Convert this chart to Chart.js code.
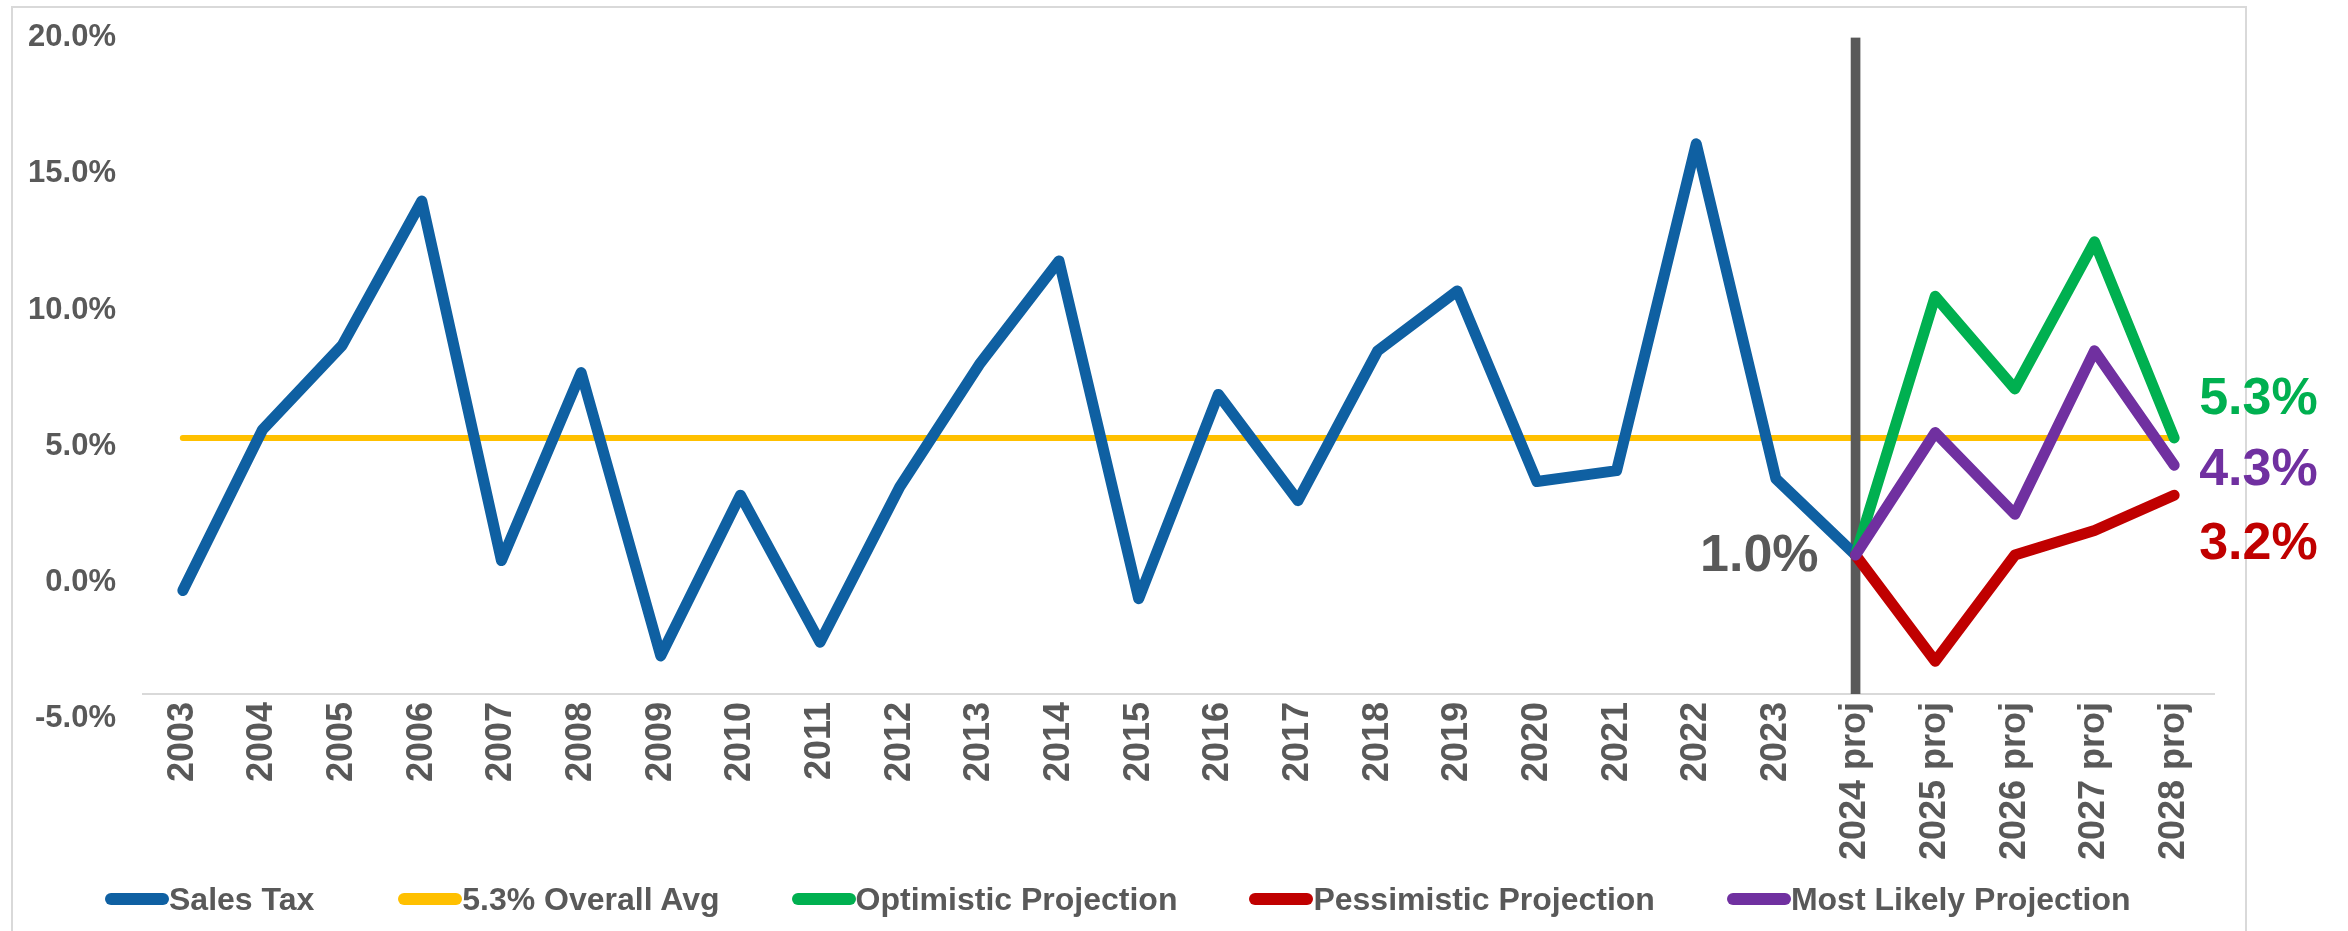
<!DOCTYPE html>
<html>
<head>
<meta charset="utf-8">
<title>Sales Tax Growth</title>
<script src="https://cdn.jsdelivr.net/npm/chart.js@4.4.1/dist/chart.umd.min.js"></script>
<style>
    html, body { margin: 0; padding: 0; background: #ffffff; overflow: hidden; }
    #frame { position: absolute; left: 11px; top: 6px; width: 2232px; height: 1000px; border: 2px solid #d9d9d9; }
    #salesChart { position: absolute; left: 0; top: 0; }
    #legend { position: absolute; left: 105px; top: 880px; height: 38px; display: flex; align-items: center; gap: 72px;
        font: bold 32px 'Liberation Sans', Arial, sans-serif; color: #595959; white-space: nowrap; }
    #legend .item { display: flex; align-items: center; }
    #legend .item:first-child { margin-right: 12px; }
    #legend .mark { display: inline-block; width: 64px; height: 12px; border-radius: 6px; }
</style>
</head>
<body>
<div id="frame"></div>
<canvas id="salesChart" width="2348" height="931"></canvas>
<div id="legend"></div>
<script>
// Chart data
// ------------------------------
var years = ['2003', '2004', '2005', '2006', '2007', '2008', '2009', '2010', '2011', '2012', '2013',
    '2014', '2015', '2016', '2017', '2018', '2019', '2020', '2021', '2022', '2023',
    '2024 proj', '2025 proj', '2026 proj', '2027 proj', '2028 proj'];

var salesTax = [-0.3, 5.6, 8.7, 14.0, 0.8, 7.7, -2.7, 3.2, -2.2, 3.5, 8.0,
    11.8, -0.6, 6.9, 3.0, 8.5, 10.7, 3.7, 4.1, 16.1, 3.8,
    1.0, null, null, null, null];

var overallAvg = [5.3, 5.3, 5.3, 5.3, 5.3, 5.3, 5.3, 5.3, 5.3, 5.3, 5.3,
    5.3, 5.3, 5.3, 5.3, 5.3, 5.3, 5.3, 5.3, 5.3, 5.3,
    5.3, 5.3, 5.3, 5.3, 5.3];

var optimistic = [null, null, null, null, null, null, null, null, null, null, null,
    null, null, null, null, null, null, null, null, null, null,
    1.0, 10.5, 7.1, 12.5, 5.3];

var pessimistic = [null, null, null, null, null, null, null, null, null, null, null,
    null, null, null, null, null, null, null, null, null, null,
    1.0, -2.9, 1.0, 1.9, 3.2];

var mostLikely = [null, null, null, null, null, null, null, null, null, null, null,
    null, null, null, null, null, null, null, null, null, null,
    1.0, 5.5, 2.5, 8.5, 4.3];

// divider between actuals and projections
var divider = [null, null, null, null, null, null, null, null, null, null, null,
    null, null, null, null, null, null, null, null, null, null,
    [-4.1, 20], null, null, null, null];

var yTickValues = [-5, 0, 5, 10, 15, 20];
var axisCrossAt = -4.1;   // category axis crosses a bit above the -5% label
var yMax = 20;

var fontFamily = "'Liberation Sans', Arial, sans-serif";
var textGray = '#595959';

// labels at the ends of the lines: dataset, point, and offset in px
var endLabels = [
    { dataset: 0, index: 21, color: textGray, align: 'right', dx: -37, dy: 2 },
    { dataset: 2, index: 25, color: '#00B050', align: 'left', dx: 25, dy: -38 },
    { dataset: 4, index: 25, color: '#7030A0', align: 'left', dx: 25, dy: 5 },
    { dataset: 3, index: 25, color: '#C00000', align: 'left', dx: 25, dy: 49 }
];

function lineSet(label, data, color, width, order) {
    return {
        type: 'line',
        label: label,
        data: data,
        borderColor: color,
        backgroundColor: color,
        borderWidth: width,
        borderCapStyle: 'round',
        borderJoinStyle: 'round',
        pointRadius: 0,
        pointHoverRadius: 0,
        tension: 0,
        order: order
    };
}

var endLabelPlugin = {
    id: 'endLabels',
    afterDatasetsDraw: function (chart) {
        var ctx = chart.ctx;
        ctx.save();
        ctx.font = 'bold 52px ' + fontFamily;
        ctx.textBaseline = 'middle';
        endLabels.forEach(function (lbl) {
            var point = chart.getDatasetMeta(lbl.dataset).data[lbl.index];
            var value = chart.data.datasets[lbl.dataset].data[lbl.index];
            ctx.fillStyle = lbl.color;
            ctx.textAlign = lbl.align;
            ctx.fillText(value.toFixed(1) + '%', point.x + lbl.dx, point.y + lbl.dy);
        });
        ctx.restore();
    }
};

// legend as html so the marker can sit right against the text
var htmlLegendPlugin = {
    id: 'htmlLegend',
    afterUpdate: function (chart) {
        var box = document.getElementById('legend');
        box.innerHTML = '';
        chart.data.datasets.forEach(function (ds) {
            if (ds.type !== 'line') return;
            var item = document.createElement('div');
            item.className = 'item';
            var mark = document.createElement('span');
            mark.className = 'mark';
            mark.style.background = ds.borderColor;
            var text = document.createElement('span');
            text.textContent = ds.label;
            item.appendChild(mark);
            item.appendChild(text);
            box.appendChild(item);
        });
    }
};

var datasets = [
    lineSet('Sales Tax', salesTax, '#0F60A2', 11, 4),
    lineSet('5.3% Overall Avg', overallAvg, '#FFC000', 6, 7),
    lineSet('Optimistic Projection', optimistic, '#00B050', 11, 3),
    lineSet('Pessimistic Projection', pessimistic, '#C00000', 11, 2),
    lineSet('Most Likely Projection', mostLikely, '#7030A0', 11, 1),
    {
        type: 'bar',
        label: 'divider',
        data: divider,
        backgroundColor: '#595959',
        barThickness: 9,
        order: 6
    }
];

var config = {
    type: 'line',
    data: { labels: years, datasets: datasets },
    options: {
        responsive: false,
        animation: false,
        devicePixelRatio: 1,
        layout: { padding: { left: 0, right: 134, top: 29, bottom: 57 } },
        scales: {
            x: {
                offset: true,
                grid: { display: false },
                border: { display: true, color: '#d9d9d9', width: 2 },
                ticks: {
                    autoSkip: false,
                    minRotation: 90,
                    maxRotation: 90,
                    padding: 0,
                    color: textGray,
                    font: { family: fontFamily, size: 36, weight: 'bold' }
                },
                afterFit: function (scale) { scale.height = 180; }
            },
            y: {
                min: axisCrossAt,
                max: yMax,
                grid: { display: false },
                border: { display: false },
                ticks: {
                    autoSkip: false,
                    padding: 19,
                    color: textGray,
                    font: { family: fontFamily, size: 31, weight: 'bold' },
                    callback: function (value) { return value.toFixed(1) + '%'; }
                },
                afterBuildTicks: function (scale) {
                    scale.ticks = yTickValues.map(function (v) { return { value: v }; });
                },
                afterFit: function (scale) { scale.width = 143; }
            }
        },
        plugins: {
            tooltip: { enabled: false },
            legend: { display: false }
        }
    },
    plugins: [endLabelPlugin, htmlLegendPlugin]
};

new Chart(document.getElementById('salesChart'), config);
</script>
</body>
</html>
